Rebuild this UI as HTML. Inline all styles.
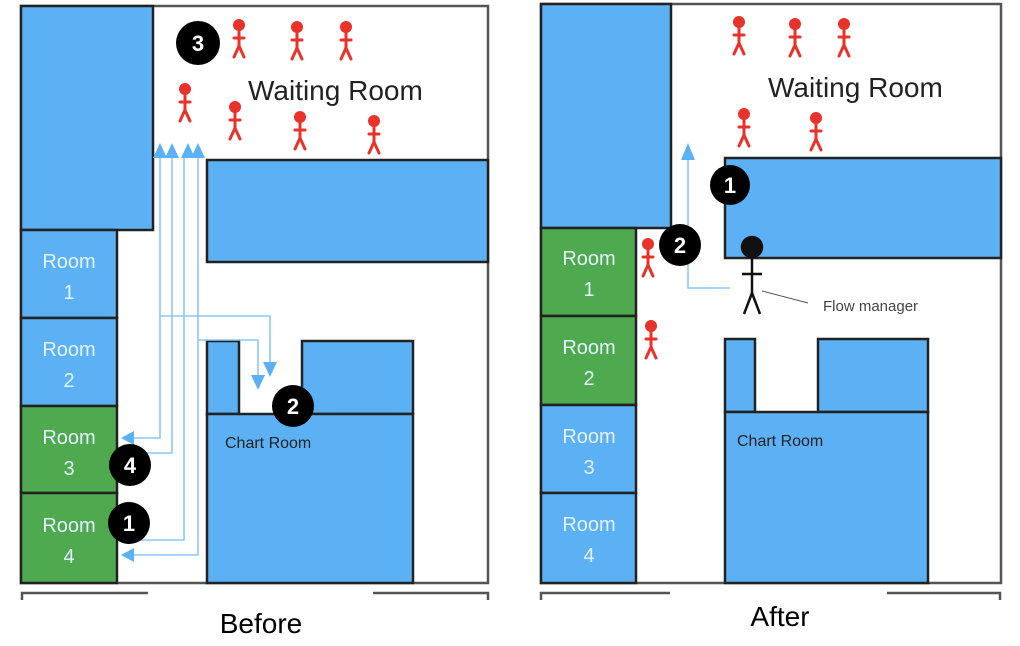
<!DOCTYPE html>
<html><head><style>html,body{margin:0;padding:0;background:#fff;width:1020px;height:646px;overflow:hidden}</style></head>
<body>
<svg width="1020" height="646" viewBox="0 0 1020 646" xmlns="http://www.w3.org/2000/svg" font-family="Liberation Sans, sans-serif">
<defs>
<g id="p" stroke="#e8322a" stroke-width="3" fill="none" stroke-linecap="round">
<circle cx="0" cy="0" r="6" fill="#e8322a" stroke="none"/>
<line x1="0" y1="5" x2="0" y2="22"/><line x1="-5" y1="13" x2="5" y2="13"/>
<line x1="0" y1="21" x2="-5" y2="32"/><line x1="0" y1="21" x2="5" y2="32"/>
</g>
</defs>
<g stroke="#222" stroke-width="2.5">
<!-- LEFT -->
<rect x="21" y="6" width="467" height="577" fill="#fff" stroke="#555"/>
<rect x="21" y="6" width="132" height="224" fill="#5cb1f5"/>
<rect x="21" y="230" width="96" height="88" fill="#5cb1f5"/>
<rect x="21" y="318" width="96" height="88" fill="#5cb1f5"/>
<rect x="21" y="406" width="96" height="87" fill="#4ea94f"/>
<rect x="21" y="493" width="96" height="90" fill="#4ea94f"/>
<rect x="207" y="160" width="281" height="102" fill="#5cb1f5"/>
<rect x="207" y="341" width="32" height="73" fill="#5cb1f5"/>
<rect x="302" y="341" width="111" height="73" fill="#5cb1f5"/>
<rect x="207" y="414" width="206" height="169" fill="#5cb1f5"/>
<!-- RIGHT -->
<rect x="541" y="4" width="460" height="579" fill="#fff" stroke="#555"/>
<rect x="541" y="4" width="130" height="224" fill="#5cb1f5"/>
<rect x="541" y="228" width="95" height="88" fill="#4ea94f"/>
<rect x="541" y="316" width="95" height="89" fill="#4ea94f"/>
<rect x="541" y="405" width="95" height="88" fill="#5cb1f5"/>
<rect x="541" y="493" width="95" height="90" fill="#5cb1f5"/>
<rect x="725" y="158" width="276" height="100" fill="#5cb1f5"/>
<rect x="725" y="339" width="30" height="73" fill="#5cb1f5"/>
<rect x="818" y="339" width="110" height="73" fill="#5cb1f5"/>
<rect x="725" y="412" width="203" height="171" fill="#5cb1f5"/>
</g>
<!-- bottom strips -->
<g stroke="#555" stroke-width="2.5" fill="none">
<path d="M22 600 V593 H148 M373 593 H488 V600"/>
<path d="M541 600 V593 H670 M887 593 H1000 V600"/>
</g>
<!-- arrows left -->
<g stroke="#8cc8f5" stroke-width="1.6" fill="none">
<path d="M160 155 V438 H125"/>
<path d="M172 155 V453 H140"/>
<path d="M184 155 V540 H140"/>
<path d="M198 155 V555 H125"/>
<path d="M160 316 H270 V362"/>
<path d="M198 340 H258 V375"/>
</g>
<g fill="#5cb1f5">
<polygon points="153,158 160,143 167,158"/><polygon points="165,158 172,143 179,158"/>
<polygon points="181,158 188,143 195,158"/><polygon points="191,158 198,143 205,158"/>
<polygon points="121,438 134,431 134,445"/><polygon points="121,555 134,548 134,562"/>
<polygon points="263,362 277,362 270,377"/><polygon points="251,375 265,375 258,390"/>
</g>
<!-- arrow right -->
<path d="M730 288 H688 V155" stroke="#8cc8f5" stroke-width="1.6" fill="none"/>
<polygon points="681,160 688,143 695,160" fill="#5cb1f5"/>
<!-- people -->
<use href="#p" x="239" y="25"/><use href="#p" x="297" y="27"/><use href="#p" x="346" y="27"/>
<use href="#p" x="185" y="89"/><use href="#p" x="235" y="107"/><use href="#p" x="300" y="117"/><use href="#p" x="374" y="121"/>
<use href="#p" x="739" y="22"/><use href="#p" x="795" y="24"/><use href="#p" x="844" y="24"/>
<use href="#p" x="744" y="114"/><use href="#p" x="816" y="118"/>
<use href="#p" x="648" y="244"/><use href="#p" x="651" y="326"/>
<!-- flow manager -->
<g stroke="#111" stroke-width="2.5" fill="none">
<circle cx="752" cy="247" r="10" fill="#111"/>
<line x1="752" y1="255" x2="752" y2="294"/><line x1="742" y1="274" x2="762" y2="274"/>
<line x1="752" y1="293" x2="744" y2="314"/><line x1="752" y1="293" x2="760" y2="314"/>
</g>
<line x1="762" y1="291" x2="808" y2="303" stroke="#555" stroke-width="1"/>
<text x="823" y="311" font-size="15" fill="#444">Flow manager</text>
<!-- circles -->
<g fill="#000">
<circle cx="198" cy="43" r="22"/><circle cx="293" cy="406" r="21"/>
<circle cx="130" cy="465" r="21"/><circle cx="129" cy="523" r="21"/>
<circle cx="730" cy="185" r="20"/><circle cx="680" cy="245" r="21"/>
</g>
<g fill="#fff" font-size="22" font-weight="bold" text-anchor="middle">
<text x="198" y="51">3</text><text x="293" y="414">2</text><text x="130" y="473">4</text><text x="129" y="531">1</text>
<text x="730" y="193">1</text><text x="680" y="253">2</text>
</g>
<!-- labels -->
<g font-size="28" fill="#222">
<text x="248" y="100">Waiting Room</text><text x="768" y="97">Waiting Room</text>
</g>
<g font-size="16" fill="#222">
<text x="225" y="448">Chart Room</text><text x="737" y="446">Chart Room</text>
</g>
<g font-size="20" fill="#e4f2fd" text-anchor="middle">
<text x="69" y="268">Room</text><text x="69" y="299">1</text>
<text x="69" y="356">Room</text><text x="69" y="387">2</text>
<text x="69" y="444">Room</text><text x="69" y="475">3</text>
<text x="69" y="532">Room</text><text x="69" y="563">4</text>
<text x="589" y="265">Room</text><text x="589" y="296">1</text>
<text x="589" y="354">Room</text><text x="589" y="385">2</text>
<text x="589" y="443">Room</text><text x="589" y="474">3</text>
<text x="589" y="531">Room</text><text x="589" y="562">4</text>
</g>
<g font-size="28" fill="#000" text-anchor="middle">
<text x="261" y="633">Before</text><text x="780" y="626">After</text>
</g>
</svg>
</body></html>
